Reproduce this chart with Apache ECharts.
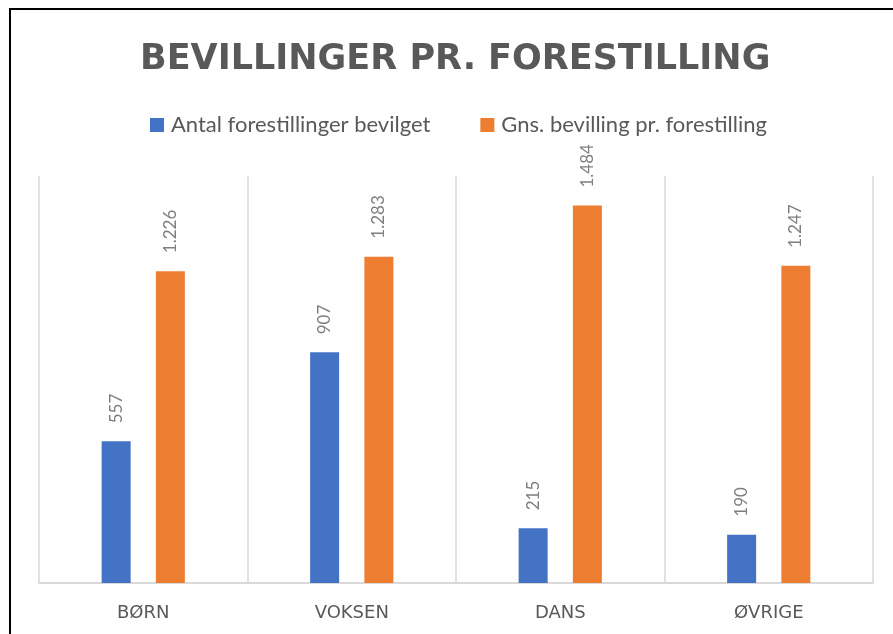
<!DOCTYPE html>
<html>
<head>
<meta charset="utf-8">
<script src="https://cdn.jsdelivr.net/npm/echarts@6/dist/echarts.min.js"></script>
<style>html,body{margin:0;padding:0;background:#fff;}#c{width:893px;height:634px;}</style>
</head>
<body>
<div id="c"></div>
<script>
const categories = ['BØRN', 'VOKSEN', 'DANS', 'ØVRIGE'];
const seriesNames = ['Antal forestillinger bevilget', 'Gns. bevilling pr. forestilling'];
const antalValues = [557, 907, 215, 190];
const gnsValues = [1226, 1283, 1484, 1247];
const titleText = 'BEVILLINGER PR. FORESTILLING';

function fmt(v) {
  return String(v).replace(/\B(?=(\d{3})+(?!\d))/g, '.');
}

const chart = echarts.init(document.getElementById('c'), null, {renderer: 'canvas'});
const labelCfg = {
  show: true,
  position: 'top',
  distance: 18,
  rotate: 90,
  align: 'left',
  verticalAlign: 'middle',
  color: '#7f7f7f',
  fontFamily: 'Lato',
  fontSize: 17,
  formatter: p => fmt(p.value)
};
chart.setOption({
  animation: false,
  backgroundColor: '#ffffff',
  title: {
    text: titleText,
    left: 140,
    top: 42,
    padding: 0,
    textStyle: {fontFamily: 'DejaVu Sans', fontWeight: 'bold', fontSize: 35, color: '#595959'}
  },
  legend: {
    top: 109,
    left: 145,
    itemWidth: 14,
    itemHeight: 14,
    itemGap: 50,
    icon: 'rect',
    textStyle: {fontFamily: 'Lato', fontSize: 22, color: '#595959', padding: [0, 0, 0, 2]},
    data: seriesNames
  },
  grid: {left: 39, right: 20, top: 176, bottom: 51, containLabel: false},
  xAxis: {
    type: 'category',
    data: categories,
    axisTick: {show: false},
    axisLine: {lineStyle: {color: '#d9d9d9', width: 2}},
    splitLine: {show: true, lineStyle: {color: '#d9d9d9', width: 1.5}},
    axisLabel: {color: '#595959', fontFamily: 'DejaVu Sans', fontSize: 18, margin: 21}
  },
  yAxis: {type: 'value', min: 0, max: 1600, show: false, splitLine: {show: false}},
  graphic: [{
    type: 'rect',
    shape: {x: 10, y: 9, width: 900, height: 700},
    style: {fill: 'none', stroke: '#000', lineWidth: 2},
    silent: true
  }],
  series: [
    {name: seriesNames[0], type: 'bar', data: antalValues, barWidth: 29, barGap: '87%',
     itemStyle: {color: '#4472c4'}, label: labelCfg},
    {name: seriesNames[1], type: 'bar', data: gnsValues, barWidth: 29, barGap: '87%',
     itemStyle: {color: '#ed7d31'}, label: labelCfg}
  ]
});
</script>
</body>
</html>
